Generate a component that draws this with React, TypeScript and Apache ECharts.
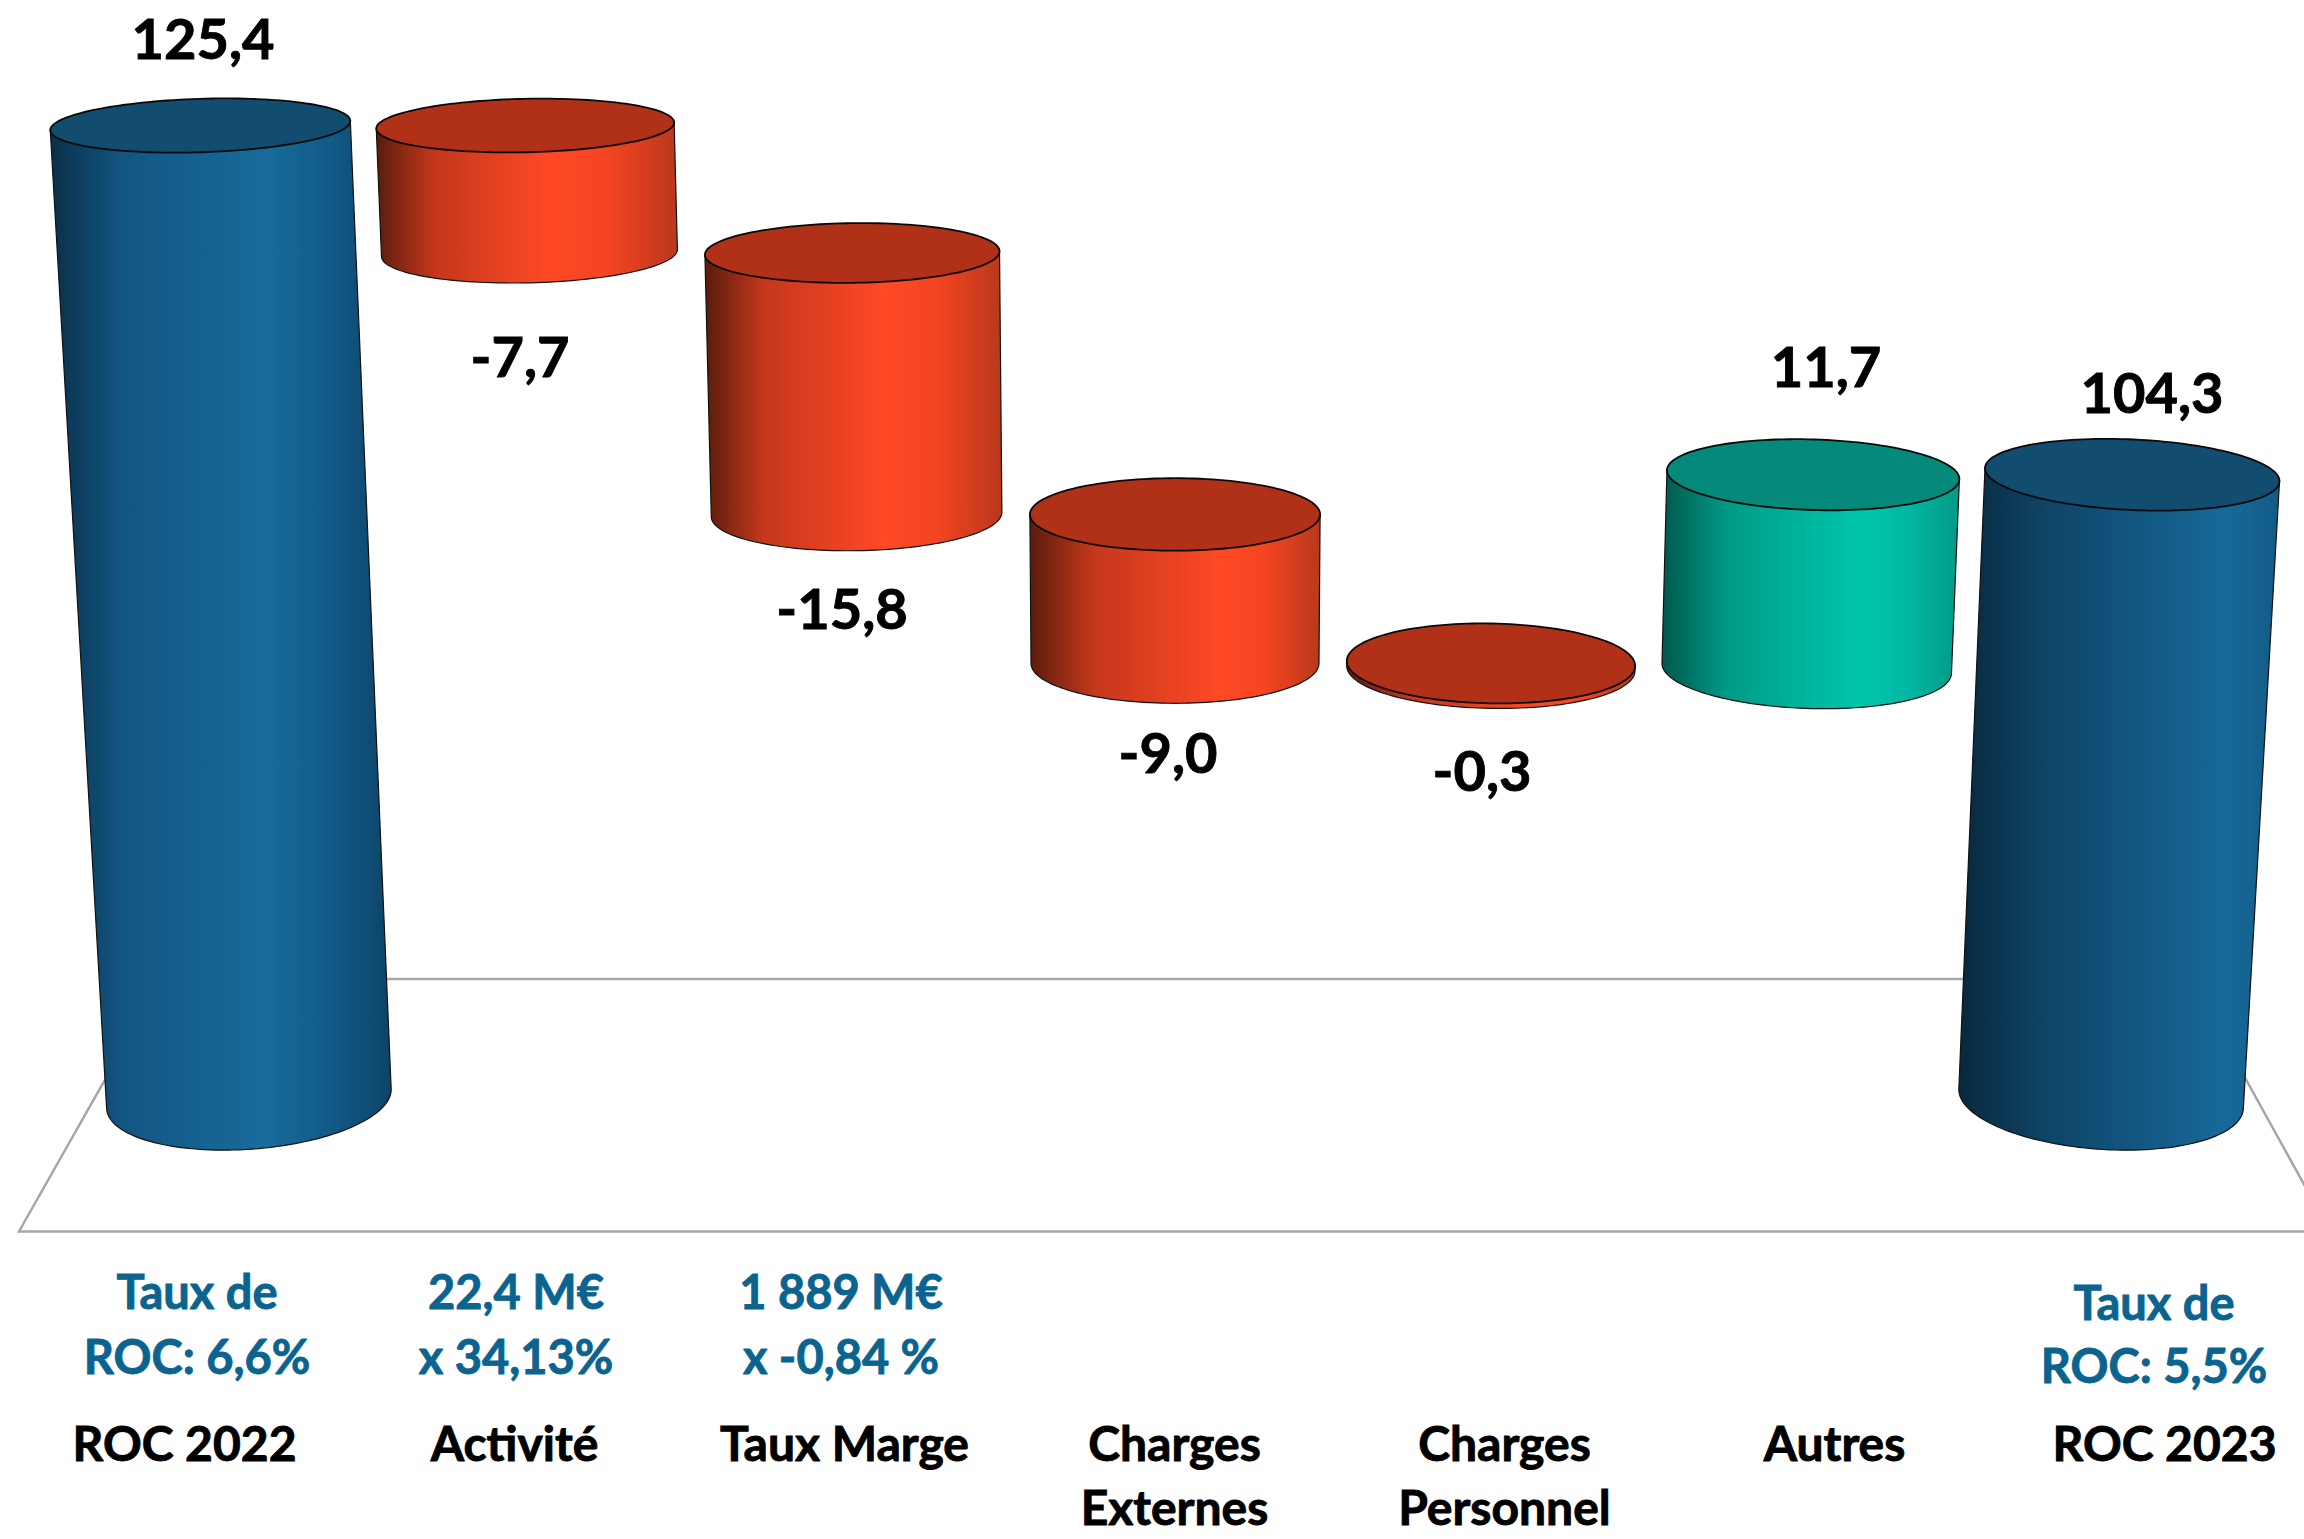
import React, { useEffect, useRef } from "react";
import * as echarts from "echarts";

// ---------- data ----------
const categories = ["ROC 2022", "Activité", "Taux Marge", "Charges\nExternes", "Charges\nPersonnel", "Autres", "ROC 2023"];
const barLow = [66.6, 117.7, 101.9, 92.9, 92.6, 92.6, 66.6];
const barHigh = [125.4, 125.4, 117.7, 101.9, 92.9, 104.3, 104.3];
const valueLabels = ["125,4", "-7,7", "-15,8", "-9,0", "-0,3", "11,7", "104,3"];
const noteLines = [
  ["Taux de", "ROC: 6,6%"],
  ["22,4 M€", "x 34,13%"],
  ["1 889 M€", "x -0,84 %"],
  ["Taux de", "ROC: 5,5%"],
];

// ---------- layout ----------
const W = 2304;
const H = 1539;
const valueLabelPos = [[203, 37], [520, 355], [842, 607], [1168, 751], [1482, 769], [1826, 365], [2152, 391]];
const notePos = [[197, 1291, 1356], [516, 1291, 1356], [841, 1291, 1356], [2154, 1302, 1365]];
const FONT = "Lato";

// ---------- colours ----------
type Pal = { top: string; stops: string[] };
const BLUE: Pal = { top: "#124d70", stops: ["#0a2f48", "#125683", "#186b9c", "#125c8a", "#0d4468"] };
const BLUE_R: Pal = { top: "#124d70", stops: ["#08283c", "#0e4466", "#17689a", "#156493", "#125a85"] };
const RED: Pal = { top: "#b03018", stops: ["#5a1c0c", "#c4371c", "#ff4925", "#f44421", "#b9381c"] };
const TEAL: Pal = { top: "#04897b", stops: ["#00584c", "#009c87", "#00c6ae", "#00b8a2", "#009a87"] };
const palettes = [BLUE, RED, RED, RED, RED, TEAL, BLUE_R];
const peaks = [0.64, 0.58, 0.6, 0.66, 0.66, 0.68, 0.82];

// ---------- projection of the 3-D look ----------
const CX = 1175;
const persp = (y: number) => 1 - 5.27e-5 * (y - 660);
const minor = (y: number) => 26.7 + (y - 125) * 0.0245;
const tiltRad = (k: number, y: number) => (k * (0.6 + 0.00082 * (y - 125)) * Math.PI) / 180;

function ellipsePoint(p: [number, number], k: number, t: number): [number, number] {
  const y0 = p[1];
  const s = persp(y0);
  const cx = CX + (p[0] - CX) * s;
  const a = (144 + 0.22 * k * k) * s;
  const b = minor(y0);
  const th = tiltRad(k, y0);
  const ex = a * Math.cos(t);
  const ey = b * Math.sin(t);
  return [cx + ex * Math.cos(th) - ey * Math.sin(th), y0 + ex * Math.sin(th) + ey * Math.cos(th)];
}

function renderCylinder(params: any, api: any) {
  const i = api.value(0);
  const topP = api.coord([i, api.value(2)]);
  const lowP = api.coord([i, api.value(1)]);
  const k = i - 3;
  const pal = palettes[i];
  const peak = peaks[i];
  const N = 72;
  const body: [number, number][] = [];
  body.push(ellipsePoint(topP, k, Math.PI));
  for (let j = 0; j <= N; j++) body.push(ellipsePoint(lowP, k, Math.PI - (Math.PI * j) / N));
  body.push(ellipsePoint(topP, k, 0));
  const top: [number, number][] = [];
  for (let j = 0; j < N * 2; j++) top.push(ellipsePoint(topP, k, (Math.PI * j) / N));
  const gradient = new echarts.graphic.LinearGradient(0, 0, 1, 0, [
    { offset: 0, color: pal.stops[0] },
    { offset: peak * 0.33, color: pal.stops[1] },
    { offset: peak, color: pal.stops[2] },
    { offset: peak + (1 - peak) * 0.45, color: pal.stops[3] },
    { offset: 1, color: pal.stops[4] },
  ]);
  return {
    type: "group",
    children: [
      { type: "polygon", shape: { points: body }, style: { fill: gradient, stroke: "#111111", lineWidth: 1.2 } },
      { type: "polygon", shape: { points: top }, style: { fill: pal.top, stroke: "#0a0a0a", lineWidth: 1.8 } },
    ],
  };
}

const textEl = (text: string, x: number, y: number, size: number, fill: string) => ({
  type: "text",
  x,
  y,
  silent: true,
  style: {
    text,
    fontFamily: FONT,
    fontSize: size,
    fontWeight: "bold",
    fill,
    stroke: fill,
    lineWidth: 0.9,
    align: "center",
    verticalAlign: "middle",
  },
});

export default function App() {
  const ref = useRef<HTMLDivElement>(null);
  useEffect(() => {
    document.body.style.margin = "0";
    document.body.style.overflow = "hidden";
    const chart = echarts.init(ref.current!, null, { renderer: "svg" });
    const graphics: any[] = [
      {
        type: "polygon",
        silent: true,
        z: 0,
        shape: { points: [[19, 1231.5], [162, 979], [2190.5, 979], [2330, 1231.5]] },
        style: { fill: "#ffffff", stroke: "#a6a6a6", lineWidth: 2.5 },
      },
    ];
    valueLabels.forEach((t, i) => graphics.push({ ...textEl(t, valueLabelPos[i][0], valueLabelPos[i][1], 56, "#000000"), z: 10 }));
    noteLines.forEach((lines, i) => {
      graphics.push({ ...textEl(lines[0], notePos[i][0], notePos[i][1], 47, "#0b6490"), z: 10 });
      graphics.push({ ...textEl(lines[1], notePos[i][0], notePos[i][2], 47, "#0b6490"), z: 10 });
    });
    chart.setOption({
      animation: false,
      backgroundColor: "#ffffff",
      grid: [
        { left: 69, width: 2212, top: 49.4, height: 1158.5, containLabel: false },
        { left: 184.5, width: 1980, top: 1400, height: 10, containLabel: false },
      ],
      xAxis: [
        { type: "category", gridIndex: 0, data: categories, show: false },
        {
          type: "category",
          gridIndex: 1,
          data: categories,
          boundaryGap: false,
          axisLine: { show: false },
          axisTick: { show: false },
          axisLabel: {
            interval: 0,
            margin: 7.5,
            color: "#000000",
            fontFamily: FONT,
            fontWeight: "bold",
            fontSize: 48,
            lineHeight: 64.6,
            textBorderColor: "#000000",
            textBorderWidth: 0.9,
          },
        },
      ],
      yAxis: [
        { type: "value", gridIndex: 0, min: 60, max: 130, show: false },
        { type: "value", gridIndex: 1, show: false },
      ],
      graphic: graphics,
      series: [
        {
          type: "custom",
          xAxisIndex: 0,
          yAxisIndex: 0,
          clip: false,
          renderItem: renderCylinder,
          encode: { x: 0, y: [1, 2] },
          data: categories.map((_, i) => [i, barLow[i], barHigh[i]]),
          z: 5,
        },
      ],
    });
    return () => chart.dispose();
  }, []);
  return <div ref={ref} style={{ width: W, height: H }} />;
}
